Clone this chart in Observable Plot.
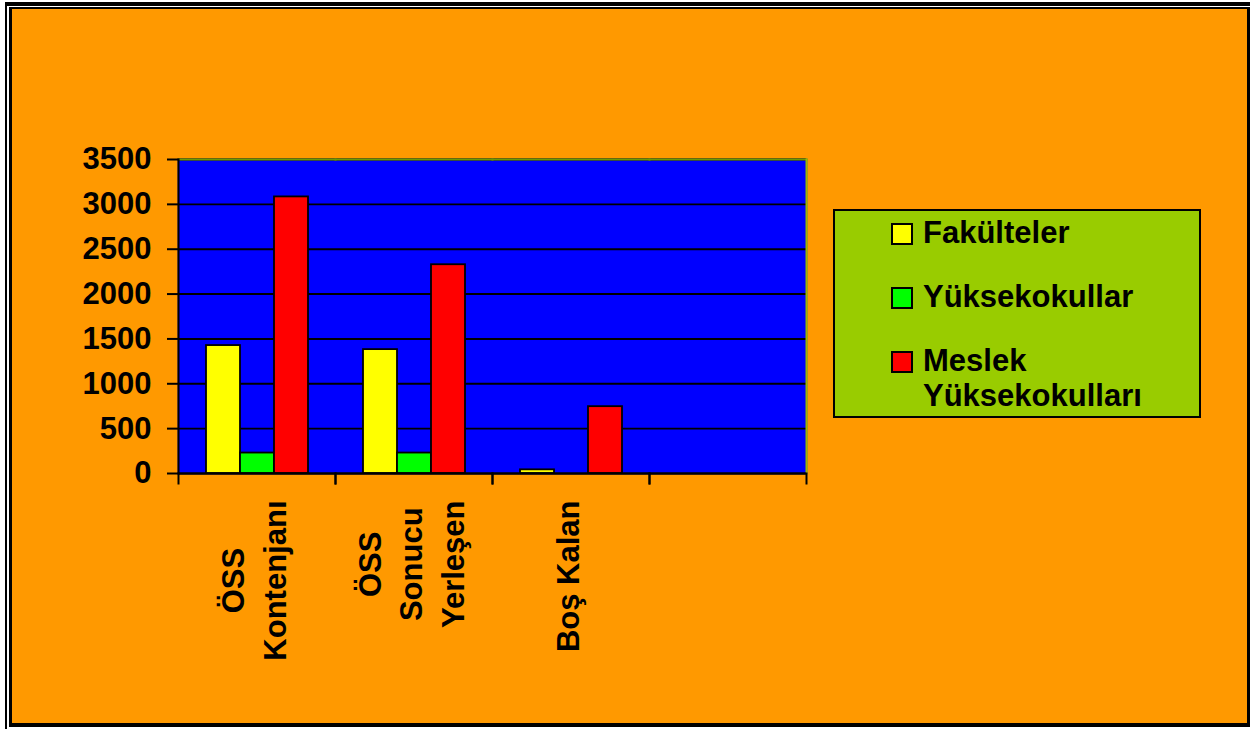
<!DOCTYPE html>
<html><head><meta charset="utf-8">
<script src="https://cdn.jsdelivr.net/npm/d3@7"></script>
<script src="https://cdn.jsdelivr.net/npm/@observablehq/plot@0.6"></script>
<style>
html,body{margin:0;padding:0;width:1250px;height:729px;overflow:hidden;background:#fff;font-family:"Liberation Sans",Arial,sans-serif;}
.outer{position:absolute;left:5px;top:2px;right:0;bottom:0;border-left:2px solid #000;border-top:4px solid #000;background:#fff;}
.inner{position:absolute;left:9px;top:7px;right:0;bottom:2px;border-left:3px solid #000;border-top:2px solid #000;border-right:3px solid #000;border-bottom:4px solid #000;background:#FF9900;}
#chart{position:absolute;left:0;top:0;}
.legend{position:absolute;left:833px;top:209px;width:368px;height:209px;box-sizing:border-box;background:#99CC00;border:2px solid #000;}
.item{position:absolute;left:56px;font-weight:bold;font-size:31px;line-height:35px;color:#000;white-space:nowrap;}
.sw{position:absolute;left:0;top:8px;width:18px;height:18px;border:2px solid #000;}
.lbl{position:absolute;left:32px;top:0;}
</style></head><body>
<div class="outer"></div><div class="inner"></div>
<div id="chart"></div>
<div class="legend" id="legend"></div>
<script>
const categories = ["ÖSS Kontenjanı", "ÖSS Sonucu Yerleşen", "Boş Kalan", ""];
const categoryLabelLines = [["ÖSS", "Kontenjanı"], ["ÖSS", "Sonucu", "Yerleşen"], ["Boş Kalan"], []];
const seriesNames = ["Fakülteler", "Yüksekokullar", "Meslek Yüksekokulları"];
const seriesLegendLines = [["Fakülteler"], ["Yüksekokullar"], ["Meslek", "Yüksekokulları"]];
const seriesColors = ["#FFFF00", "#00FF00", "#FF0000"];
const fakulteler = [1426, 1381, 41];
const yuksekokullar = [228, 228, 0];
const meslekYuksekokullari = [3083, 2327, 745];
const yTicks = [0, 500, 1000, 1500, 2000, 2500, 3000, 3500];

const valuesBySeries = [fakulteler, yuksekokullar, meslekYuksekokullari];
const table = categories.slice(0, 3).flatMap((c, i) =>
  seriesNames.map((s, j) => ({category: c, series: s, value: valuesBySeries[j][i]})));

const W = 1250, H = 729, mL = 178, mR = 444, mT = 159, mB = 256;
const facetH = H - mT - mB;
const FONT = '"Liberation Sans", Arial, sans-serif';
const fs = 31;
const ctx = document.createElement("canvas").getContext("2d");
function measure(t) { ctx.font = `bold ${fs}px ${FONT}`; return ctx.measureText(t).width; }

const labelMarks = categories.map((c, i) => {
  const lines = categoryLabelLines[i];
  const maxW = lines.length ? Math.max(...lines.map(measure)) : 0;
  return Plot.text([c], {
    fx: d => d, text: () => lines.join("\n"), frameAnchor: "bottom", rotate: -90,
    textAnchor: "middle", lineAnchor: "middle", lineHeight: 1.35,
    dx: -5, dy: 27 + maxW / 2, fontSize: fs, fontWeight: "bold", fill: "black"
  });
});

const chart = Plot.plot({
  width: W, height: H, marginLeft: mL, marginRight: mR, marginTop: mT, marginBottom: mB,
  style: {background: "transparent", fontFamily: FONT, fontWeight: "bold", fontSize: `${fs}px`, color: "black", overflow: "visible"},
  fx: {domain: categories, padding: 0, axis: null},
  x: {domain: seriesNames, paddingInner: 0, paddingOuter: 0.743, axis: null},
  y: {domain: [0, 3500], axis: null},
  color: {domain: seriesNames, range: seriesColors},
  marks: [
    Plot.frame({fill: "#0000FF", stroke: "#0000FF", strokeWidth: 1.5}),
    Plot.gridY(yTicks, {stroke: "black", strokeOpacity: 1, strokeWidth: 1.9}),
    Plot.frame({anchor: "top", stroke: "#6f9a00", strokeWidth: 2}),
    Plot.frame({anchor: "right", stroke: "#9ab800", strokeWidth: 2, facetAnchor: "right"}),
    Plot.barY(table, {fx: "category", x: "series", y: "value", fill: "series", stroke: "black", strokeWidth: 1.8}),
    Plot.ruleY([0], {stroke: "black", strokeWidth: 2}),
    Plot.frame({anchor: "left", stroke: "black", strokeWidth: 2, facetAnchor: "left"}),
    Plot.frame({anchor: "left", stroke: "black", strokeWidth: 2, insetTop: facetH, insetBottom: -10}),
    Plot.frame({anchor: "right", stroke: "black", strokeWidth: 2, insetTop: facetH, insetBottom: -10}),
    Plot.axisY(yTicks, {tickSize: 11, tickPadding: 16, fontSize: fs, fontWeight: "bold", color: "black", strokeWidth: 2, label: null, tickFormat: d => String(d)}),
    ...labelMarks
  ]
});
document.getElementById("chart").appendChild(chart);

const legend = document.getElementById("legend");
const itemTops = [4, 68, 132];
seriesNames.forEach((s, j) => {
  const it = document.createElement("div");
  it.className = "item";
  it.style.top = itemTops[j] + "px";
  const sw = document.createElement("div");
  sw.className = "sw";
  sw.style.background = seriesColors[j];
  const lb = document.createElement("div");
  lb.className = "lbl";
  lb.innerHTML = seriesLegendLines[j].join("<br>");
  it.appendChild(sw); it.appendChild(lb);
  legend.appendChild(it);
});
</script>
</body></html>
